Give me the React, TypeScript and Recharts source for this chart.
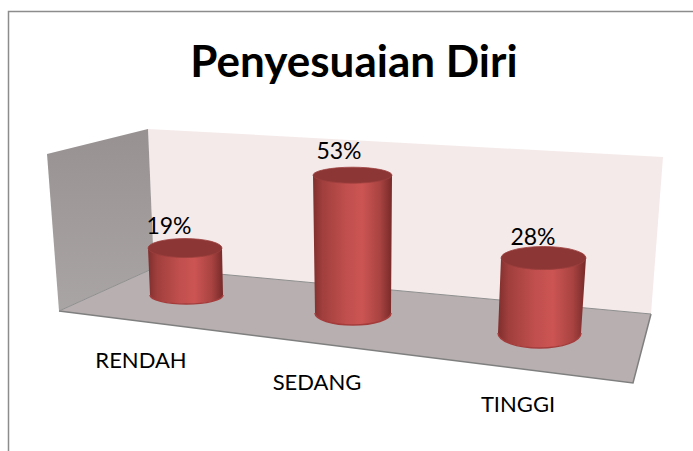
import React from "react";
import { BarChart, Bar, XAxis, YAxis, LabelList, Customized } from "recharts";

const categories = ["RENDAH", "SEDANG", "TINGGI"];
const percentages = [19, 53, 28];
const titleText = "Penyesuaian Diri";
const rows = categories.map((name, i) => ({ name, value: percentages[i] }));

// Fake 3D camera: how each category is displaced from its flat chart position.
const camera = [
  { baseDx: 1.5, topDx: 0, baseDy: -18, grow: 0.95, rxTop: 37, rxBase: 36.5, ryTop: 9.5, ryBase: 9, labelDx: -16, labelDy: -14 },
  { baseDx: -10, topDx: -10.5, baseDy: 0, grow: 1.0, rxTop: 39.5, rxBase: 38, ryTop: 8, ryBase: 12, labelDx: -13.5, labelDy: -16 },
  { baseDx: -1.5, topDx: 2.5, baseDy: 20, grow: 1.03, rxTop: 42.5, rxBase: 41.5, ryTop: 11.5, ryBase: 15, labelDx: -10.5, labelDy: -13 },
];
const tickOffsets = [
  { dx: -44, y: 368 },
  { dx: -46, y: 390 },
  { dx: -23, y: 412 },
];

const FONT = "Lato, Carlito, sans-serif";

const Scene = () => (
  <g>
    <defs>
      <linearGradient id="cyl" x1="0" y1="0" x2="1" y2="0">
        <stop offset="0" stopColor="#7f2f2d" />
        <stop offset="0.12" stopColor="#a03f3d" />
        <stop offset="0.42" stopColor="#c04f4d" />
        <stop offset="0.62" stopColor="#cc5553" />
        <stop offset="0.85" stopColor="#a84341" />
        <stop offset="1" stopColor="#762a29" />
      </linearGradient>
      <linearGradient id="sideWall" x1="0" y1="0" x2="0" y2="1">
        <stop offset="0" stopColor="#989191" />
        <stop offset="1" stopColor="#aaa5a5" />
      </linearGradient>
    </defs>
    <path d="M8.5 451 V11.5 H693" fill="none" stroke="#8c8c8c" strokeWidth={1.5} />
    <text x={354} y={77} textAnchor="middle" fontFamily={FONT} fontWeight={700} fontSize={44} fill="#000">
      {titleText}
    </text>
    <polygon points="148,129 663,157 651,314 154,268" fill="#f5eaea" />
    <polygon points="47,154 148,129 154,268 59,311" fill="url(#sideWall)" />
    <polygon points="154,268 651,314 633,383 59,311" fill="#b8b0b0" />
    <polyline points="59,311 633,383 651,314" fill="none" stroke="#7f7f7f" strokeWidth={1.5} />
    <line x1="59" y1="311" x2="154" y2="268" stroke="#8f8f8f" strokeWidth={1} />
    <line x1="154" y1="268" x2="651" y2="314" stroke="#8f8f8f" strokeWidth={1} />
  </g>
);

const Cylinder = (props: any) => {
  const { x, y, width, height, index } = props;
  const c = camera[index];
  const cx = x + width / 2;
  const baseY = y + height + c.baseDy;
  const bx = cx + c.baseDx;
  const tx = cx + c.topDx;
  const ty = baseY - height * c.grow;
  const body = `M${tx - c.rxTop} ${ty} L${bx - c.rxBase} ${baseY} A${c.rxBase} ${c.ryBase} 0 0 0 ${bx + c.rxBase} ${baseY} L${tx + c.rxTop} ${ty} Z`;
  return (
    <g>
      <path d={body} fill="url(#cyl)" />
      <path
        d={`M${bx - c.rxBase} ${baseY} A${c.rxBase} ${c.ryBase} 0 0 0 ${bx + c.rxBase} ${baseY}`}
        fill="none"
        stroke="#a53c3c"
        strokeWidth={1.5}
      />
      <ellipse cx={tx} cy={ty} rx={c.rxTop} ry={c.ryTop} fill="#8c3735" stroke="#9c3f3d" strokeWidth={0.8} />
    </g>
  );
};

const PercentLabel = (props: any) => {
  const { x, y, width, height, value, index } = props;
  const c = camera[index];
  const baseY = y + height + c.baseDy;
  const ty = baseY - height * c.grow;
  const tx = x + width / 2 + c.topDx;
  return (
    <text x={tx + c.labelDx} y={ty + c.labelDy} textAnchor="middle" fontFamily={FONT} fontSize={23} fill="#000">
      {`${value}%`}
    </text>
  );
};

const CategoryTick = (props: any) => {
  const { x, payload, index } = props;
  const t = tickOffsets[index];
  return (
    <text x={x + t.dx} y={t.y} textAnchor="middle" fontFamily={FONT} fontSize={22} fill="#000">
      {payload.value}
    </text>
  );
};

export default function App() {
  return (
    <div style={{ position: "absolute", left: 0, top: 0, width: 693, height: 451, background: "#fff" }}>
      <BarChart
        width={693}
        height={451}
        data={rows}
        margin={{ top: 157, right: 63, bottom: 108, left: 96 }}
        barCategoryGap="57%"
      >
        <Customized component={Scene} />
        <XAxis dataKey="name" axisLine={false} tickLine={false} tick={CategoryTick} height={30} interval={0} />
        <YAxis domain={[0, 60]} hide width={0} />
        <Bar dataKey="value" shape={Cylinder} isAnimationActive={false}>
          <LabelList dataKey="value" content={PercentLabel} />
        </Bar>
      </BarChart>
    </div>
  );
}
